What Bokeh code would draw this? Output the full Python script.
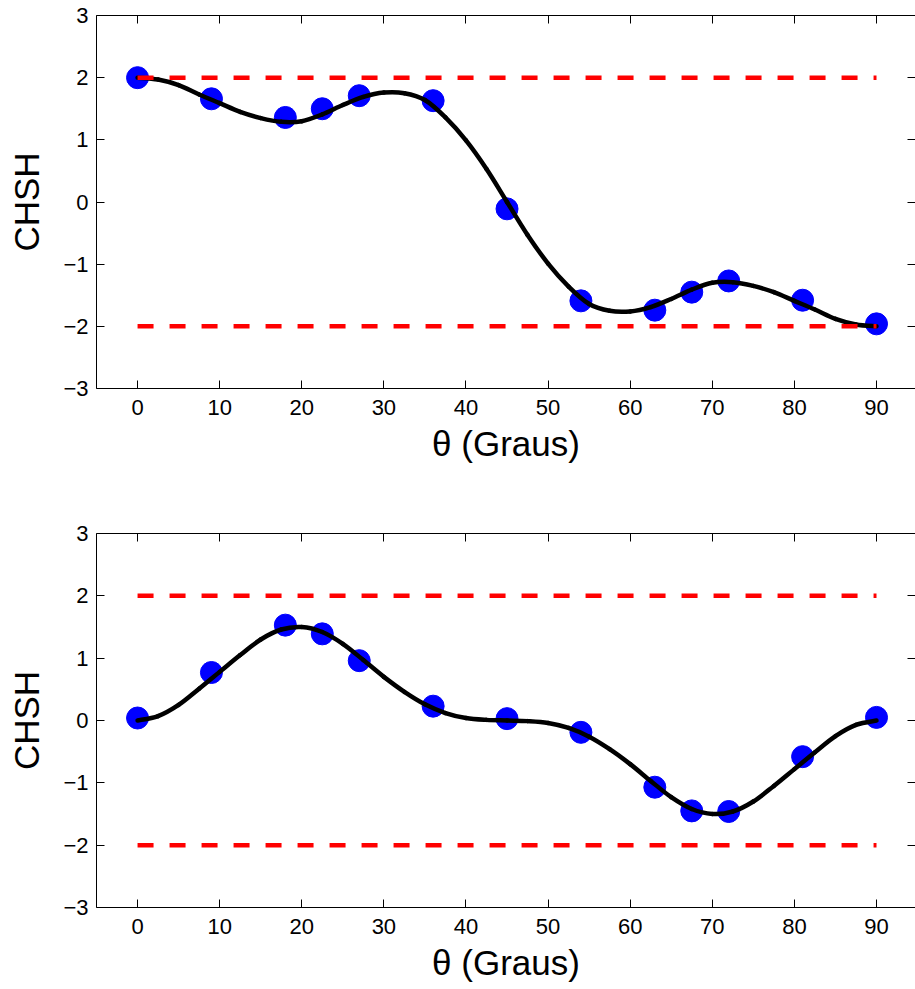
from bokeh.plotting import figure
from bokeh.models import Range1d, LinearAxis, FixedTicker
from bokeh.layouts import column
from bokeh.embed import file_html
from bokeh.resources import INLINE

# ---- data ----
theta_pts = [0, 9, 18, 22.5, 27, 36, 45, 54, 63, 67.5, 72, 81, 90]
chsh_top_pts = [2.00, 1.66, 1.36, 1.50, 1.71, 1.63, -0.11, -1.59, -1.74, -1.45, -1.27, -1.58, -1.96]
chsh_bottom_pts = [0.04, 0.77, 1.53, 1.39, 0.96, 0.23, 0.03, -0.19, -1.07, -1.45, -1.46, -0.58, 0.05]

theta_curve = [0, 2.5, 5, 7.5, 10, 12.5, 15, 17.5, 20, 22.5, 25, 27.5, 30, 32.5, 35, 37.5,
               40, 42.5, 45, 47.5, 50, 52.5, 55, 57.5, 60, 62.5, 65, 67.5, 70, 72.5, 75,
               77.5, 80, 82.5, 85, 87.5, 90]
curve_top = [2.00, 1.97, 1.88, 1.73, 1.59, 1.45, 1.35, 1.29, 1.30, 1.41, 1.56, 1.69, 1.76,
             1.75, 1.64, 1.36, 0.99, 0.53, 0.00, -0.53, -0.99, -1.36, -1.64, -1.75, -1.76,
             -1.69, -1.56, -1.41, -1.30, -1.29, -1.35, -1.45, -1.59, -1.73, -1.88, -1.97, -2.00]
curve_bottom = [0.00, 0.07, 0.25, 0.51, 0.78, 1.05, 1.30, 1.46, 1.50, 1.42, 1.23, 0.97, 0.70,
                0.46, 0.26, 0.12, 0.04, 0.01, 0.00, -0.01, -0.04, -0.12, -0.26, -0.46, -0.70,
                -0.97, -1.23, -1.42, -1.50, -1.46, -1.30, -1.05, -0.78, -0.51, -0.25, -0.07, 0.00]

limit_theta = [0, 90]
upper_limit = [2, 2]
lower_limit = [-2, -2]

x_ticks = [0, 10, 20, 30, 40, 50, 60, 70, 80, 90]
y_ticks = [-3, -2, -1, 0, 1, 2, 3]
y_tick_labels = ["\u22123", "\u22122", "\u22121", "0", "1", "2", "3"]

x_label = "\u03b8 (Graus)"
y_label = "CHSH"

FONT = "Liberation Sans"


def smooth_segments(xs, ys):
    """Catmull-Rom through the read samples, expressed as cubic Bezier segments."""
    n = len(xs)
    x0, y0, x1, y1, cx0, cy0, cx1, cy1 = [], [], [], [], [], [], [], []
    for i in range(n - 1):
        im1 = max(i - 1, 0)
        ip2 = min(i + 2, n - 1)
        x0.append(xs[i]); y0.append(ys[i])
        x1.append(xs[i + 1]); y1.append(ys[i + 1])
        cx0.append(xs[i] + (xs[i + 1] - xs[im1]) / 6.0)
        cy0.append(ys[i] + (ys[i + 1] - ys[im1]) / 6.0)
        cx1.append(xs[i + 1] - (xs[ip2] - xs[i]) / 6.0)
        cy1.append(ys[i + 1] - (ys[ip2] - ys[i]) / 6.0)
    return dict(x0=x0, y0=y0, x1=x1, y1=y1, cx0=cx0, cy0=cy0, cx1=cx1, cy1=cy1)


def style_axis(ax, ticks, show_labels, overrides=None):
    ax.ticker = FixedTicker(ticks=ticks)
    ax.major_tick_in = 8
    ax.major_tick_out = 0
    ax.minor_tick_line_color = None
    ax.axis_line_color = "black"
    ax.axis_line_width = 1
    ax.major_tick_line_color = "black"
    ax.major_tick_line_width = 1
    if show_labels:
        ax.major_label_text_font = FONT
        ax.major_label_text_font_size = "22px"
        ax.major_label_text_color = "black"
        if overrides:
            ax.major_label_overrides = overrides
    else:
        ax.major_label_text_font_size = "0px"
        ax.major_label_text_color = None
        ax.major_label_standoff = 0


def panel(pts, curve, height, border_top, border_bottom):
    p = figure(width=915, height=height, output_backend="svg", toolbar_location=None,
               x_range=Range1d(-5, 94.75), y_range=Range1d(-3, 3),
               min_border_left=96, min_border_right=0,
               min_border_top=border_top, min_border_bottom=border_bottom)
    p.grid.visible = False
    p.outline_line_color = None
    p.background_fill_color = "white"
    p.border_fill_color = "white"

    xa = p.xaxis[0]
    ya = p.yaxis[0]
    style_axis(xa, x_ticks, True)
    style_axis(ya, y_ticks, True, {t: l for t, l in zip(y_ticks, y_tick_labels)})
    xa.major_label_standoff = 11
    ya.major_label_standoff = 8
    xa.axis_label = x_label
    ya.axis_label = y_label
    for ax in (xa, ya):
        ax.axis_label_text_font = FONT
        ax.axis_label_text_font_size = "35px"
        ax.axis_label_text_font_style = "normal"
        ax.axis_label_text_color = "black"
    xa.axis_label_standoff = 6
    ya.axis_label_standoff = 14

    top = LinearAxis()
    style_axis(top, x_ticks, False)
    p.add_layout(top, "above")
    right = LinearAxis()
    style_axis(right, y_ticks, False)
    right.axis_line_color = None
    p.add_layout(right, "right")

    p.scatter(theta_pts, pts, size=22, fill_color="#0000ff", line_color="#0000ff")
    seg = smooth_segments(theta_curve, curve)
    p.bezier(x0=seg["x0"], y0=seg["y0"], x1=seg["x1"], y1=seg["y1"],
             cx0=seg["cx0"], cy0=seg["cy0"], cx1=seg["cx1"], cy1=seg["cy1"],
             line_color="black", line_width=4.5, line_cap="round")
    p.line(limit_theta, upper_limit, line_color="#ff0000", line_width=4.5, line_dash="16 16")
    p.line(limit_theta, lower_limit, line_color="#ff0000", line_width=4.5, line_dash="16 16")
    return p


p1 = panel(chsh_top_pts, curve_top, 480, 15, 92)
p2 = panel(chsh_bottom_pts, curve_bottom, 509, 53, 82)

layout = column(p1, p2, spacing=0)
open("out.html", "w").write(file_html(layout, INLINE))
